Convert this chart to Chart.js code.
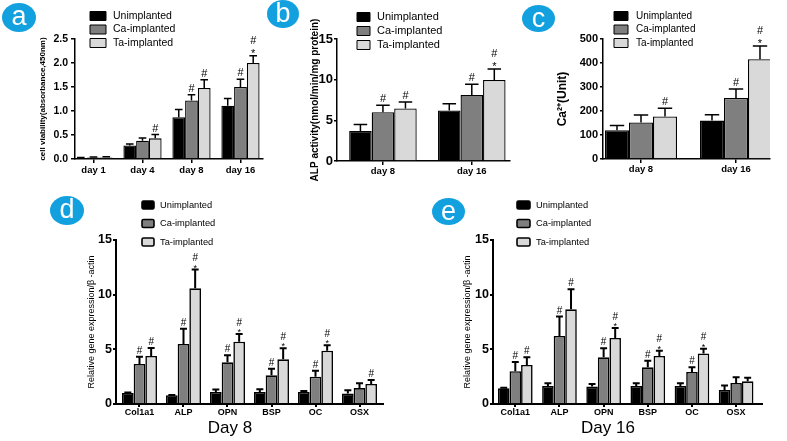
<!DOCTYPE html>
<html>
<head>
<meta charset="utf-8">
<script src="https://cdn.jsdelivr.net/npm/chart.js@4.4.1/dist/chart.umd.min.js"></script>
<style>
  body { margin: 0; background: #fff; font-family: "Liberation Sans", Arial, sans-serif; }
  #page { position: relative; width: 787px; height: 441px; overflow: hidden; background: #fff; }
  canvas { position: absolute; }
  .badge { position: absolute; background: #12a0df; color: #fff; border-radius: 50%; text-align: center; font-size: 27px; }
  .caption { position: absolute; width: 120px; text-align: center; font-size: 17px; color: #000; }
</style>
</head>
<body>
<div id="page">
  <canvas id="chartA" width="268" height="190" style="left:0;top:0"></canvas>
  <canvas id="chartB" width="220" height="190" style="left:300px;top:0"></canvas>
  <canvas id="chartC" width="242" height="190" style="left:545px;top:0"></canvas>
  <canvas id="chartD" width="320" height="251" style="left:80px;top:190px"></canvas>
  <canvas id="chartE" width="332" height="251" style="left:455px;top:190px"></canvas>

  <div class="badge" style="left:2px;top:3px;width:34px;height:29px;line-height:27px">a</div>
  <div class="badge" style="left:267px;top:0;width:32px;height:28px;line-height:26px">b</div>
  <div class="badge" style="left:522px;top:5px;width:33px;height:27px;line-height:26px">c</div>
  <div class="badge" style="left:50px;top:196px;width:34px;height:29px;line-height:27px">d</div>
  <div class="badge" style="left:432px;top:198px;width:33px;height:27px;line-height:26px">e</div>

  <div class="caption" style="left:170px;top:418px">Day 8</div>
  <div class="caption" style="left:548px;top:418px">Day 16</div>
</div>
<script>
Chart.defaults.font.family = '"Liberation Sans", Arial, sans-serif';
Chart.defaults.color = '#000';

const groups = ['Unimplanted', 'Ca-implanted', 'Ta-implanted'];
const colors = ['#000000', '#7f7f7f', '#d9d9d9'];

// a: cell viability
const daysA = ['day 1', 'day 4', 'day 8', 'day 16'];
const unA = [0.02, 0.28, 0.87, 1.11];
const unErrA = [0.01, 0.03, 0.16, 0.15];
const caA = [0.03, 0.38, 1.22, 1.50];
const caErrA = [0.01, 0.06, 0.12, 0.16];
const taA = [0.03, 0.43, 1.48, 2.00];
const taErrA = [0.015, 0.08, 0.17, 0.15];
const caMarkA = ['', '', '#', '#'];
const taMarkA = ['', '#', '#', '#*'];

// b: ALP activity
const daysB = ['day 8', 'day 16'];
const unB = [3.7, 6.2];
const unErrB = [0.8, 0.85];
const caB = [6.0, 8.1];
const caErrB = [0.85, 1.35];
const taB = [6.45, 9.95];
const taErrB = [0.8, 1.35];
const caMarkB = ['#', '#'];
const taMarkB = ['#', '#*'];

// c: Ca2+
const daysC = ['day 8', 'day 16'];
const unC = [120, 160];
const unErrC = [20, 24];
const caC = [152, 254];
const caErrC = [31, 38];
const taC = [177, 416];
const taErrC = [34, 55];
const caMarkC = ['', '#'];
const taMarkC = ['#', '#*'];

// d / e: gene expression
const genes = ['Col1a1', 'ALP', 'OPN', 'BSP', 'OC', 'OSX'];
const unD = [1.0, 0.8, 1.1, 1.1, 1.1, 0.95];
const unErrD = [0.05, 0.03, 0.22, 0.25, 0.1, 0.3];
const caD = [3.66, 5.49, 3.81, 2.62, 2.5, 1.46];
const caErrD = [0.67, 1.4, 0.64, 0.61, 0.55, 0.43];
const taD = [4.39, 10.58, 5.7, 4.09, 4.88, 1.83];
const taErrD = [0.73, 1.72, 0.7, 1.0, 0.49, 0.37];
const caMarkD = ['#', '#', '#', '#', '#', ''];
const taMarkD = ['#', '#*', '#*', '#*', '#*', '#'];

const unE = [1.43, 1.65, 1.59, 1.65, 1.65, 1.28];
const unErrE = [0.05, 0.25, 0.24, 0.25, 0.25, 0.42];
const caE = [3.0, 6.22, 4.27, 3.35, 2.93, 1.92];
const caErrE = [0.84, 1.78, 0.83, 0.61, 0.42, 0.52];
const taE = [3.57, 8.66, 6.04, 4.39, 4.63, 2.07];
const taErrE = [0.7, 1.84, 0.91, 0.49, 0.43, 0.33];
const caMarkE = ['#', '#', '#', '#', '#', ''];
const taMarkE = ['#', '#', '#*', '#*', '#*', ''];

// error bars, significance marks and the legend
const panelDeco = {
  id: 'panelDeco',
  afterDatasetsDraw(chart, args, o) {
    const ctx = chart.ctx;
    const y = chart.scales.y;
    ctx.save();
    ctx.strokeStyle = '#000';
    ctx.fillStyle = '#000';
    ctx.lineWidth = o.errWidth;
    ctx.textAlign = 'center';
    ctx.textBaseline = 'alphabetic';
    chart.data.datasets.forEach((ds, k) => {
      chart.getDatasetMeta(k).data.forEach((bar, i) => {
        const top = y.getPixelForValue(ds.data[i].y + ds.errors[i]);
        const half = bar.width * 0.3;
        ctx.beginPath();
        ctx.moveTo(bar.x, bar.y);
        ctx.lineTo(bar.x, top);
        ctx.moveTo(bar.x - half, top);
        ctx.lineTo(bar.x + half, top);
        ctx.stroke();
        const m = ds.marks[i];
        if (m.includes('*')) {
          ctx.font = o.starFont;
          ctx.fillText('*', bar.x, top + o.starDy);
          ctx.font = o.hashFont;
          ctx.fillText('#', bar.x, top + o.hashStarDy);
        } else if (m.includes('#')) {
          ctx.font = o.hashFont;
          ctx.fillText('#', bar.x, top + o.hashDy);
        }
      });
    });

    const L = o.legend;
    ctx.font = L.font;
    ctx.textAlign = 'left';
    ctx.textBaseline = 'middle';
    ctx.lineWidth = L.lineWidth;
    chart.data.datasets.forEach((ds, k) => {
      const cy = L.y + k * L.dy;
      ctx.fillStyle = ds.backgroundColor;
      ctx.beginPath();
      ctx.roundRect(L.x, cy - L.h / 2, L.w, L.h, L.radius);
      ctx.fill();
      ctx.stroke();
      ctx.fillStyle = '#000';
      ctx.fillText(ds.label, L.textX, cy);
    });
    ctx.restore();
  }
};

function makeChart(id, p) {
  const datasets = groups.map((g, k) => ({
    label: g,
    data: p.values[k].map((v, i) => ({ x: i, y: v })),
    errors: p.errors[k],
    marks: p.marks[k],
    backgroundColor: colors[k],
    borderColor: '#000',
    borderWidth: p.barBorder,
    categoryPercentage: p.catPct,
    barPercentage: 1
  }));

  return new Chart(document.getElementById(id), {
    type: 'bar',
    data: { datasets },
    options: {
      responsive: false,
      animation: false,
      layout: { padding: p.padding },
      plugins: {
        legend: { display: false },
        tooltip: { enabled: false },
        panelDeco: p.deco
      },
      scales: {
        x: {
          type: 'linear',
          offset: false,
          min: p.xMin,
          max: p.xMax,
          afterFit: s => { s.height = p.xHeight; },
          afterBuildTicks: s => { s.ticks = p.labels.map((_, i) => ({ value: i })); },
          grid: { offset: false, drawOnChartArea: false, color: '#000', lineWidth: p.axisWidth, tickLength: p.xTick },
          border: { color: '#000', width: p.axisWidth },
          ticks: {
            autoSkip: false,
            maxRotation: 0,
            padding: p.xPad,
            font: { size: p.xFont, weight: 'bold' },
            callback: v => p.labels[v]
          }
        },
        y: {
          min: 0,
          max: p.yMax,
          afterFit: s => { s.width = p.yWidth; },
          grid: { drawOnChartArea: false, color: '#000', lineWidth: p.axisWidth, tickLength: p.yTick },
          border: { color: '#000', width: p.axisWidth },
          ticks: {
            stepSize: p.yStep,
            padding: p.yPad,
            font: { size: p.yFont, weight: 'bold' },
            callback: p.yFormat || (v => v)
          },
          title: {
            display: true,
            text: p.yTitle,
            padding: { top: 0, bottom: 0 },
            font: p.yTitleFont
          }
        }
      }
    },
    plugins: [panelDeco]
  });
}

const topDeco = {
  errWidth: 1.5,
  hashFont: '11px "Liberation Sans", Arial, sans-serif',
  starFont: '11px "Liberation Sans", Arial, sans-serif',
  hashDy: -3,
  starDy: 1,
  hashStarDy: -12
};
const geneDeco = {
  errWidth: 2,
  hashFont: '10px "Liberation Sans", Arial, sans-serif',
  starFont: '9px "Liberation Sans", Arial, sans-serif',
  hashDy: -3,
  starDy: 1,
  hashStarDy: -8.5
};

makeChart('chartA', {
  labels: daysA,
  values: [unA, caA, taA], errors: [unErrA, caErrA, taErrA], marks: [[], caMarkA, taMarkA].map((m, k) => k === 0 ? daysA.map(() => '') : m),
  padding: { left: 38, top: 39, right: 5, bottom: 0 },
  yWidth: 37, xHeight: 31,
  xMin: -0.378, xMax: 3.46, catPct: 0.78,
  yMax: 2.5, yStep: 0.5, yFormat: v => v.toFixed(1),
  yFont: 10.5, yTick: 4, yPad: 3,
  xFont: 9.5, xTick: 4, xPad: 2,
  axisWidth: 1.5, barBorder: 1.3,
  yTitle: 'cell viability(absorbance,450nm)',
  yTitleFont: { size: 8, weight: 'bold' },
  deco: Object.assign({}, topDeco, { legend: { x: 90, y: 16, dy: 13.5, w: 16, h: 9, radius: 0, lineWidth: 1, textX: 113, font: '10.5px "Liberation Sans", Arial, sans-serif' } })
});

makeChart('chartB', {
  labels: daysB,
  values: [unB, caB, taB], errors: [unErrB, caErrB, taErrB], marks: [daysB.map(() => ''), caMarkB, taMarkB],
  padding: { left: 9, top: 39, right: 10, bottom: 0 },
  yWidth: 28, xHeight: 29,
  xMin: -0.517, xMax: 1.43, catPct: 0.76,
  yMax: 15, yStep: 5,
  yFont: 13, yTick: 3, yPad: 1,
  xFont: 9.5, xTick: 4, xPad: 1,
  axisWidth: 1.5, barBorder: 1.3,
  yTitle: 'ALP activity(nmol/min/mg protein)',
  yTitleFont: { size: 10, weight: 'bold' },
  deco: Object.assign({}, topDeco, { legend: { x: 57, y: 17, dy: 14, w: 13, h: 9, radius: 0, lineWidth: 1, textX: 77, font: '11px "Liberation Sans", Arial, sans-serif' } })
});

makeChart('chartC', {
  labels: daysC,
  values: [unC, caC, taC], errors: [unErrC, caErrC, taErrC], marks: [daysC.map(() => ''), caMarkC, taMarkC],
  padding: { left: 10.8, top: 39, right: 17, bottom: 0 },
  yWidth: 47.2, xHeight: 31,
  xMin: -0.4, xMax: 1.358, catPct: 0.758,
  yMax: 500, yStep: 100,
  yFont: 11, yTick: 3, yPad: 2,
  xFont: 9.5, xTick: 4, xPad: 1,
  axisWidth: 1.5, barBorder: 1.3,
  yTitle: 'Ca²⁺(Unit)',
  yTitleFont: { size: 12, weight: 'bold' },
  deco: Object.assign({}, topDeco, { legend: { x: 69, y: 16, dy: 13.5, w: 14, h: 9, radius: 0, lineWidth: 1, textX: 91, font: '10px "Liberation Sans", Arial, sans-serif' } })
});

makeChart('chartD', {
  labels: genes,
  values: [unD, caD, taD], errors: [unErrD, caErrD, taErrD], marks: [genes.map(() => ''), caMarkD, taMarkD],
  padding: { left: 6.6, top: 50, right: 17, bottom: 0 },
  yWidth: 29.4, xHeight: 37,
  xMin: -0.534, xMax: 5.534, catPct: 0.795,
  yMax: 15, yStep: 5,
  yFont: 12.5, yTick: 3, yPad: 1,
  xFont: 9, xTick: 3, xPad: 0,
  axisWidth: 2, barBorder: 1.6,
  yTitle: 'Relative gene expression/β -actin',
  yTitleFont: { size: 9 },
  deco: Object.assign({}, geneDeco, { legend: { x: 62, y: 15, dy: 18.5, w: 12, h: 8, radius: 1.5, lineWidth: 1.6, textX: 80, font: '9.3px "Liberation Sans", Arial, sans-serif' } })
});

makeChart('chartE', {
  labels: genes,
  values: [unE, caE, taE], errors: [unErrE, caErrE, taErrE], marks: [genes.map(() => ''), caMarkE, taMarkE],
  padding: { left: 7.6, top: 50, right: 25, bottom: 0 },
  yWidth: 30.4, xHeight: 37,
  xMin: -0.505, xMax: 5.586, catPct: 0.785,
  yMax: 15, yStep: 5,
  yFont: 12.5, yTick: 3, yPad: 1,
  xFont: 9, xTick: 3, xPad: 0,
  axisWidth: 2, barBorder: 1.6,
  yTitle: 'Relative gene expression/β -actin',
  yTitleFont: { size: 9 },
  deco: Object.assign({}, geneDeco, { legend: { x: 62, y: 15, dy: 18.5, w: 13, h: 8, radius: 1.5, lineWidth: 1.6, textX: 81, font: '9.3px "Liberation Sans", Arial, sans-serif' } })
});
</script>
</body>
</html>
